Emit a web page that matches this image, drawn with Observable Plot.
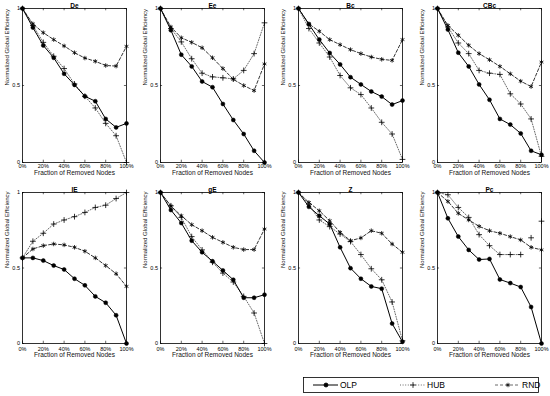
<!DOCTYPE html>
<html><head><meta charset="utf-8">
<script src="https://cdn.jsdelivr.net/npm/d3@7"></script>
<script src="https://cdn.jsdelivr.net/npm/@observablehq/plot@0.6"></script>
<style>
body{margin:0;background:#fff;}
#wrap{position:relative;width:550px;height:396px;overflow:hidden;font-family:"Liberation Sans",Arial,sans-serif;}
#wrap svg{position:absolute;overflow:visible;}
</style></head><body><div id="wrap"></div>
<script>
const fractions = [0, 0.1, 0.2, 0.3, 0.4, 0.5, 0.6, 0.7, 0.8, 0.9, 1.0];
const panelNames = ["De", "Ee", "Bc", "CBc", "IE", "gE", "Z", "Pc"];
const xTicks = [0, 0.2, 0.4, 0.6, 0.8, 1];
const xTickLabels = ["0%", "20%", "40%", "60%", "80%", "100%"];
const yTicks = [0, 0.5, 1];
const yTickLabels = ["0", "0.5", "1"];
const xLabel = "Fraction of Removed Nodes";
const yLabel = "Normalized Global Efficiency";
const seriesNames = ["OLP", "HUB", "RND"];

// values per panel (order of panelNames), per fraction
const olpValues = [
  [1, 0.876, 0.76, 0.68, 0.576, 0.504, 0.43, 0.398, 0.283, 0.228, 0.254],
  [1, 0.859, 0.70, 0.624, 0.526, 0.489, 0.38, 0.276, 0.185, 0.076, 0],
  [1, 0.898, 0.798, 0.711, 0.637, 0.554, 0.507, 0.461, 0.428, 0.376, 0.402],
  [1, 0.863, 0.713, 0.624, 0.507, 0.407, 0.283, 0.246, 0.189, 0.076, 0.05],
  [0.567, 0.567, 0.549, 0.516, 0.49, 0.429, 0.385, 0.312, 0.27, 0.187, 0],
  [1, 0.884, 0.798, 0.681, 0.604, 0.545, 0.484, 0.422, 0.303, 0.303, 0.323],
  [1, 0.905, 0.846, 0.791, 0.637, 0.499, 0.429, 0.378, 0.363, 0.132, 0.011],
  [1, 0.829, 0.708, 0.62, 0.556, 0.56, 0.424, 0.40, 0.374, 0.242, 0]
];
const hubValues = [
  [1, 0.89, 0.78, 0.69, 0.61, 0.51, 0.43, 0.354, 0.254, 0.174, 0],
  [1, 0.87, 0.783, 0.674, 0.58, 0.556, 0.55, 0.543, 0.598, 0.707, 0.907],
  [1, 0.87, 0.776, 0.685, 0.565, 0.485, 0.441, 0.354, 0.261, 0.185, 0.02],
  [1, 0.88, 0.776, 0.707, 0.598, 0.58, 0.572, 0.446, 0.38, 0.283, 0.04],
  [0.567, 0.677, 0.73, 0.791, 0.818, 0.84, 0.868, 0.901, 0.916, 0.96, 1.0],
  [1, 0.912, 0.835, 0.708, 0.62, 0.538, 0.466, 0.407, 0.312, 0.202, 0],
  [1, 0.923, 0.818, 0.774, 0.725, 0.675, 0.589, 0.495, 0.422, 0.275, 0.018],
  [1, 0.985, 0.901, 0.835, 0.721, 0.648, 0.589, 0.589, 0.589, 0.70, 0.81]
];
const rndValues = [
  [1, 0.90, 0.843, 0.798, 0.757, 0.713, 0.678, 0.657, 0.63, 0.626, 0.754],
  [1, 0.88, 0.81, 0.78, 0.745, 0.68, 0.61, 0.54, 0.50, 0.467, 0.64],
  [1, 0.90, 0.852, 0.798, 0.765, 0.733, 0.707, 0.685, 0.67, 0.663, 0.798],
  [1, 0.89, 0.826, 0.761, 0.707, 0.667, 0.624, 0.576, 0.528, 0.493, 0.652],
  [0.567, 0.626, 0.648, 0.659, 0.653, 0.637, 0.611, 0.567, 0.516, 0.462, 0.378],
  [1, 0.91, 0.846, 0.787, 0.747, 0.703, 0.67, 0.637, 0.622, 0.622, 0.758],
  [1, 0.934, 0.879, 0.813, 0.736, 0.681, 0.699, 0.747, 0.73, 0.659, 0.604],
  [1, 0.941, 0.862, 0.818, 0.776, 0.747, 0.73, 0.708, 0.686, 0.637, 0.62]
];
// in panel Pc the HUB markers after this fraction are not joined by the line
const hubUnlinkedPanel = "Pc";
const hubUnlinkedFrom = 0.9;

const wrap = document.getElementById("wrap");
const font = "'Liberation Sans', Arial, sans-serif";
const panelLefts = [0, 138, 276, 415];
const rowTops = [0, 184];
const rowHeights = [180, 177];
const rowTickPad = [1.5, 3.5];
const rowLabelDy = [8, 9];

panelNames.forEach((name, i) => {
  const row = Math.floor(i / 4), col = i % 4;
  const make = (vals) => vals.map((v, j) => ({x: fractions[j], y: v}));
  const olp = make(olpValues[i]);
  const hub = make(hubValues[i]);
  const rnd = make(rndValues[i]);
  const hubLine = name === hubUnlinkedPanel ? hub.filter(d => d.x < hubUnlinkedFrom - 1e-9) : hub;
  const chart = Plot.plot({
    width: 134,
    height: rowHeights[row],
    marginLeft: 22, marginRight: 8, marginTop: 8, marginBottom: rowHeights[row] - 8 - (row === 0 ? 154 : 151),
    x: {domain: [0, 1]},
    y: {domain: [0, 1]},
    style: {fontFamily: font, background: "transparent", overflow: "visible", color: "black"},
    marks: [
      Plot.line(hubLine, {x: "x", y: "y", stroke: "#444", strokeWidth: 0.8, strokeDasharray: "1,1.6"}),
      Plot.line(rnd, {x: "x", y: "y", stroke: "black", strokeWidth: 0.8, strokeDasharray: "3,2"}),
      Plot.line(olp, {x: "x", y: "y", stroke: "black", strokeWidth: 1}),
      Plot.dot(hub, {x: "x", y: "y", symbol: "plus", r: 2.0, stroke: "black", strokeWidth: 0.8}),
      Plot.dot(rnd, {x: "x", y: "y", symbol: "asterisk", r: 2.1, stroke: "black", strokeWidth: 0.8}),
      Plot.dot(olp, {x: "x", y: "y", symbol: "circle", r: 2, fill: "black", stroke: "black", strokeWidth: 0.5}),
      Plot.ruleX(xTicks, {x: d => d, y1: 0, y2: 0.015, stroke: "black", strokeWidth: 0.6}),
      Plot.ruleX(xTicks, {x: d => d, y1: 0.985, y2: 1, stroke: "black", strokeWidth: 0.6}),
      Plot.ruleY(yTicks, {y: d => d, x1: 0, x2: 0.02, stroke: "black", strokeWidth: 0.6}),
      Plot.ruleY(yTicks, {y: d => d, x1: 0.98, x2: 1, stroke: "black", strokeWidth: 0.6}),
      Plot.frame({stroke: "black", strokeWidth: 0.8}),
      Plot.axisX({ticks: xTicks, tickSize: 0, tickPadding: rowTickPad[row], fontSize: 5.5,
        tickFormat: d => xTickLabels[xTicks.indexOf(d)], label: null}),
      Plot.axisY({ticks: yTicks, tickSize: 0, tickPadding: 2.5, fontSize: 5.5,
        tickFormat: d => yTickLabels[yTicks.indexOf(d)], label: null}),
      Plot.text([xLabel], {text: d => d, frameAnchor: "bottom", dy: rowLabelDy[row], lineAnchor: "top", fontSize: 6.5, fill: "#111"}),
      Plot.text([yLabel], {text: d => d, frameAnchor: "left", rotate: -90, dx: -15, fontSize: 6, fill: "#111"}),
      Plot.text([name], {text: d => d, frameAnchor: "top", dy: -1, lineAnchor: "bottom", fontSize: 6.5, fontWeight: "bold"})
    ]
  });
  chart.style.left = panelLefts[col] + "px";
  chart.style.top = rowTops[row] + "px";
  wrap.appendChild(chart);
});

// legend
const lg = d3.select(wrap).append("svg")
  .attr("width", 245).attr("height", 22)
  .style("left", "300px").style("top", "374px")
  .style("font-family", font);
lg.append("rect").attr("x", 3.5).attr("y", 3.5).attr("width", 235).attr("height", 15)
  .attr("fill", "white").attr("stroke", "black").attr("stroke-width", 0.8);
const legendItems = [
  {name: seriesNames[0], x0: 13, dash: null, sym: d3.symbolCircle, fill: "black", size: Math.PI * 4, tx: 40},
  {name: seriesNames[1], x0: 100, dash: "1,1.6", sym: d3.symbolPlus, fill: "none", size: Math.PI * 4, tx: 127},
  {name: seriesNames[2], x0: 195, dash: "3,2", sym: d3.symbolAsterisk, fill: "none", size: Math.PI * 4.4, tx: 222}
];
legendItems.forEach(it => {
  lg.append("line").attr("x1", it.x0).attr("x2", it.x0 + 25).attr("y1", 11).attr("y2", 11)
    .attr("stroke", it.dash ? "#444" : "black").attr("stroke-width", it.dash ? 0.8 : 1)
    .attr("stroke-dasharray", it.dash);
  lg.append("path").attr("d", d3.symbol(it.sym, it.size)())
    .attr("transform", `translate(${it.x0 + 13},11)`)
    .attr("fill", it.fill).attr("stroke", "black").attr("stroke-width", 0.8);
  lg.append("text").attr("x", it.tx).attr("y", 11).attr("dy", "0.35em")
    .attr("font-size", 8.5).text(it.name);
});
</script></body></html>
